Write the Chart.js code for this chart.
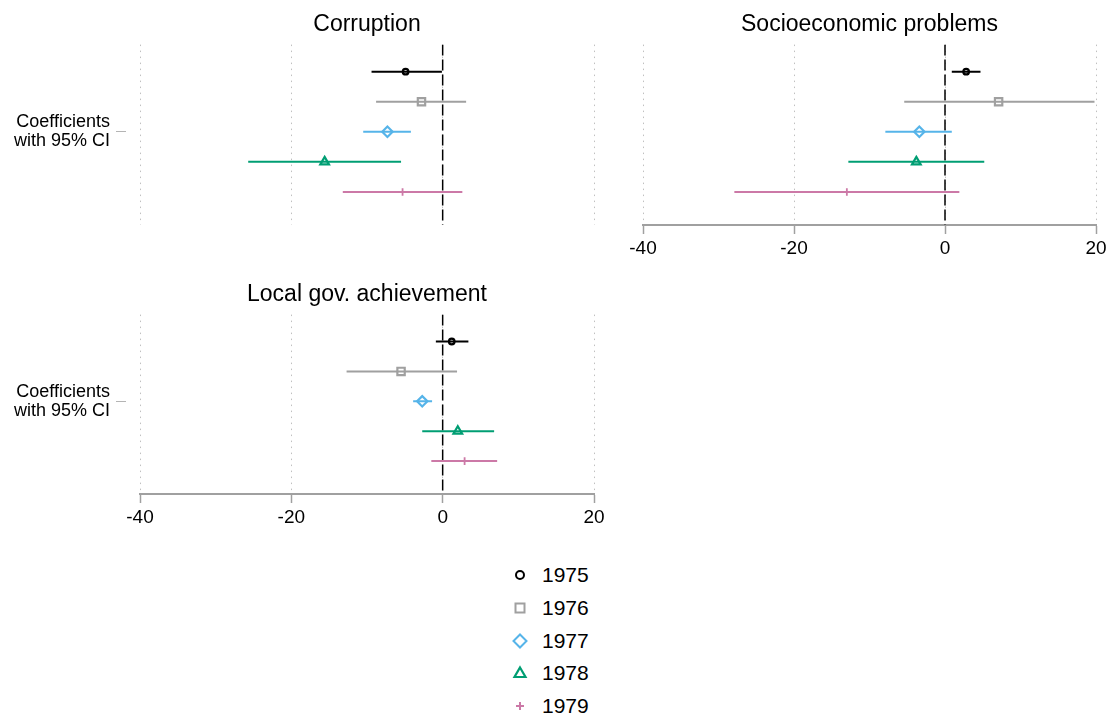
<!DOCTYPE html>
<html>
<head>
<meta charset="utf-8">
<script src="https://cdn.jsdelivr.net/npm/chart.js@4.4.0/dist/chart.umd.min.js"></script>
<style>
    body { margin: 0; background: #fff; width: 1109px; height: 719px; position: relative; overflow: hidden;
           font-family: "Liberation Sans", Arial, sans-serif; }
    canvas { position: absolute; }
    #legend { position: absolute; left: 510px; top: 559px; }
    #legend .item { height: 32.7px; display: flex; align-items: center; font-size: 21px; color: #000; }
    #legend svg { width: 20px; height: 20px; margin-right: 12px; }
</style>
</head>
<body>
<canvas id="corruption" width="614" height="255" style="left:0;top:0"></canvas>
<canvas id="socio" width="500" height="270" style="left:620px;top:0"></canvas>
<canvas id="localgov" width="614" height="269" style="left:0;top:270px"></canvas>
<div id="legend"></div>

<script>
// years (one row per year, 1975 at top)
const years = ['1975', '1976', '1977', '1978', '1979'];
const rows = [1, 2, 3, 4, 5];
const xTicks = [-40, -20, 0, 20];
const yLabel = ['Coefficients', 'with 95% CI'];

// Corruption
const corruptionEst = [-4.9, -2.8, -7.3, -15.6, -5.3];
const corruptionLo = [-9.4, -8.8, -10.5, -25.7, -13.2];
const corruptionHi = [-0.1, 3.1, -4.2, -5.5, 2.6];

// Socioeconomic problems
const socioEst = [2.8, 7.1, -3.4, -3.8, -13.0];
const socioLo = [0.9, -5.4, -7.9, -12.8, -27.9];
const socioHi = [4.7, 19.8, 0.9, 5.2, 1.9];

// Local gov. achievement
const localEst = [1.2, -5.5, -2.7, 2.0, 2.9];
const localLo = [-0.9, -12.7, -3.9, -2.7, -1.5];
const localHi = [3.4, 1.9, -1.4, 6.8, 7.2];

const colors = ['#000000', '#a0a0a0', '#56b4e9', '#009e73', '#cc79a7'];
const styles = ['circle', 'rect', 'rectRot', 'triangle', 'cross'];
const radii = [2.8, 5.2, 5.2, 5, 3.8];
const yMin = 0.1, yMax = 6.1;

Chart.defaults.font.family = "'Liberation Sans', Arial, sans-serif";
Chart.defaults.color = '#000';

function makePanel(id, title, est, lo, hi, showY, xHeight, pad) {
    let showX = xHeight > 30;
    let datasets = [];
    years.forEach(function (yr, i) {
        datasets.push({
            label: yr + ' CI',
            data: [{ x: lo[i], y: rows[i] }, { x: hi[i], y: rows[i] }],
            showLine: true,
            borderColor: colors[i],
            borderWidth: 2,
            pointRadius: 0,
            order: 2
        });
        datasets.push({
            label: yr,
            data: [{ x: est[i], y: rows[i] }],
            pointStyle: styles[i],
            pointRadius: radii[i],
            pointBorderColor: colors[i],
            pointBackgroundColor: 'rgba(0,0,0,0)',
            pointBorderWidth: i == 4 ? 1.8 : 2.2,
            order: 1
        });
    });
    // reference line at zero
    datasets.push({
        label: 'zero',
        data: [{ x: 0, y: yMin }, { x: 0, y: yMax }],
        showLine: true,
        borderColor: '#000',
        borderWidth: 1.5,
        borderDash: [11, 4],
        pointRadius: 0,
        order: 3
    });

    return new Chart(id, {
        type: 'scatter',
        data: { datasets: datasets },
        options: {
            responsive: false,
            animation: false,
            devicePixelRatio: 1,
            events: [],
            layout: { padding: pad },
            plugins: {
                legend: { display: false },
                tooltip: { enabled: false },
                title: {
                    display: true,
                    text: title,
                    fullSize: false,
                    font: { size: 23, weight: 'normal' },
                    color: '#000',
                    padding: { top: 11, bottom: 6 }
                }
            },
            scales: {
                x: {
                    type: 'linear',
                    min: -40,
                    max: 20,
                    afterBuildTicks: s => { s.ticks = xTicks.map(v => ({ value: v })); },
                    afterFit: s => { s.height = xHeight; },
                    ticks: { display: showX, font: { size: 19 }, color: '#000', padding: 3, maxRotation: 0, autoSkip: false },
                    grid: {
                        color: '#c0c0c0',
                        lineWidth: 1,
                        drawTicks: showX,
                        tickLength: 9,
                        tickColor: '#a0a0a0',
                        tickWidth: 1.5,
                        tickBorderDash: []
                    },
                    border: { display: showX, color: '#a0a0a0', width: 2, dash: [1.5, 4.5] }
                },
                y: {
                    type: 'linear',
                    display: showY,
                    reverse: true,
                    min: yMin,
                    max: yMax,
                    afterBuildTicks: s => { s.ticks = [{ value: 3 }]; },
                    afterFit: s => { s.width = showY ? 140 : 0; },
                    ticks: {
                        callback: () => yLabel,
                        font: { size: 18, lineHeight: 1.06 },
                        color: '#000',
                        padding: 6
                    },
                    grid: {
                        drawOnChartArea: false,
                        tickLength: 24,
                        tickBorderDash: [10, 14],
                        tickColor: '#b4b4b4',
                        tickWidth: 1
                    },
                    border: { display: false }
                }
            }
        }
    });
}

makePanel('corruption', 'Corruption', corruptionEst, corruptionLo, corruptionHi, true, 30,
    { left: 0, right: 20, top: 0, bottom: 0 });
makePanel('socio', 'Socioeconomic problems', socioEst, socioLo, socioHi, false, 40,
    { left: 23, right: 24, top: 0, bottom: 5 });
makePanel('localgov', 'Local gov. achievement', localEst, localLo, localHi, true, 40,
    { left: 0, right: 20, top: 0, bottom: 5 });

// legend
const markerSvg = [
    '<circle cx="10" cy="10" r="4" fill="none" stroke="#000" stroke-width="2"/>',
    '<rect x="5.5" y="5.5" width="9" height="9" fill="none" stroke="#a0a0a0" stroke-width="2"/>',
    '<polygon points="10,3.5 16.5,10 10,16.5 3.5,10" fill="none" stroke="#56b4e9" stroke-width="2"/>',
    '<polygon points="10,4.5 15.5,14 4.5,14" fill="none" stroke="#009e73" stroke-width="2.2"/>',
    '<path d="M10 6 V14 M6 10 H14" stroke="#cc79a7" stroke-width="2"/>'
];
let legendHtml = '';
years.forEach(function (yr, i) {
    legendHtml += '<div class="item"><svg viewBox="0 0 20 20">' + markerSvg[i] + '</svg>' + yr + '</div>';
});
document.getElementById('legend').innerHTML = legendHtml;
</script>
</body>
</html>
